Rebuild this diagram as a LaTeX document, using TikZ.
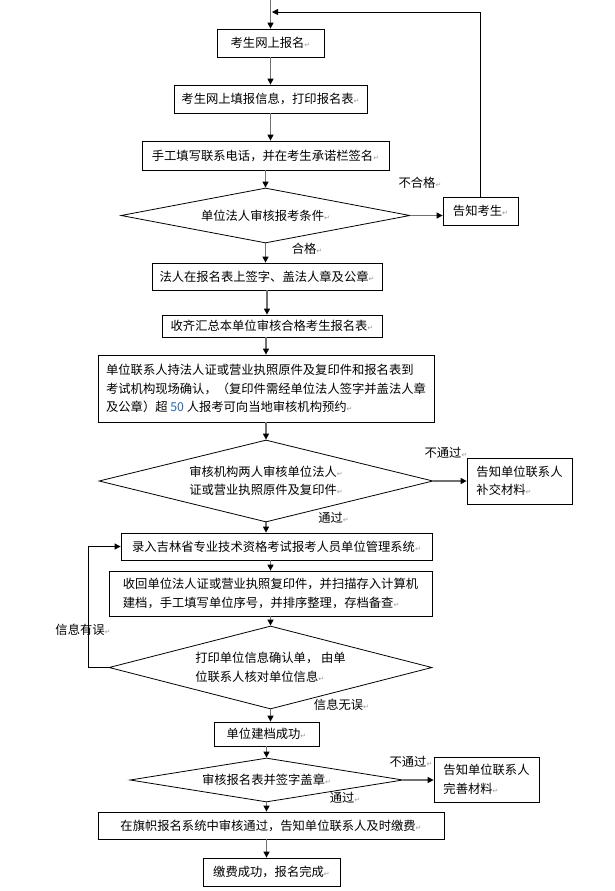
\documentclass[tikz,border=0pt]{standalone}
\usepackage{xcolor}
\usepackage{fontspec}
\usepackage{tikz}
\usetikzlibrary{shapes.geometric,arrows.meta}
\setmainfont{Noto Sans CJK SC}
\newfontfamily\symfont{DejaVu Sans}
\definecolor{linegray}{HTML}{707070}
\definecolor{markgray}{HTML}{9A9A9A}
\definecolor{numblue}{HTML}{2A64B4}
\newcommand{\parmark}{{\symfont\fontsize{7}{7}\selectfont\textcolor{markgray}{↵}}}

\begin{document}
\begin{tikzpicture}[x=1pt,y=-1pt,
    every node/.style={font=\fontsize{12.3}{18.5}\selectfont},
    stepbox/.style={draw,line width=0.8pt,inner sep=0pt,align=left},
    choice/.style={draw,diamond,line width=0.8pt,inner sep=0pt,align=left},
    flow/.style={draw=linegray,line width=1.3pt,-{Triangle[length=6pt,width=6pt,color=black]}},
    back/.style={draw=black,line width=0.8pt,-{Triangle[length=6pt,width=6pt]}},
    tag/.style={inner sep=0pt}]
  \useasboundingbox (0,0) rectangle (615,891);
  % main column
  \node[stepbox,minimum width=107pt,minimum height=28pt] (enrol) at (270.5,43) {考生网上报名\parmark};
  \node[stepbox,minimum width=193pt,minimum height=28pt] (fillin) at (270.5,99) {考生网上填报信息，打印报名表\parmark};
  \node[stepbox,minimum width=247pt,minimum height=29pt] (sign) at (265.5,155.5) {手工填写联系电话，并在考生承诺栏签名\parmark};
  \node[choice,minimum width=289pt,minimum height=55pt,aspect=5.25] (check) at (265.5,215.5) {单位法人审核报考条件\parmark};
  \node[stepbox,minimum width=230pt,minimum height=27pt] (legal) at (267,276.5) {法人在报名表上签字、盖法人章及公章\parmark};
  \node[stepbox,minimum width=220pt,minimum height=22pt] (collect) at (272,326) {收齐汇总本单位审核合格考生报名表\parmark};
  \node[stepbox,minimum width=336pt,minimum height=67pt] (visit) at (266,388.5) {单位联系人持法人证或营业执照原件及复印件和报名表到\\考试机构现场确认，（复印件需经单位法人签字并盖法人章\\及公章）超 \textcolor{numblue}{50} 人报考可向当地审核机构预约\parmark};
  \node[choice,minimum width=334pt,minimum height=82pt,aspect=4.07] (verify) at (266,481) {审核机构两人审核单位法人\parmark\\证或营业执照原件及复印件\parmark};
  \node[stepbox,minimum width=311pt,minimum height=27pt] (entry) at (276.5,546.5) {录入吉林省专业技术资格考试报考人员单位管理系统\parmark};
  \node[stepbox,minimum width=323pt,minimum height=45pt] (archive) at (270.5,593.5) {收回单位法人证或营业执照复印件，并扫描存入计算机\\建档，手工填写单位序号，并排序整理，存档备查\parmark};
  \node[choice,minimum width=323pt,minimum height=83pt,aspect=3.9] (confirm) at (270.5,667.5) {打印单位信息确认单， 由单\\位联系人核对单位信息\parmark};
  \node[stepbox,minimum width=105pt,minimum height=24pt] (built) at (266.5,734) {单位建档成功\parmark};
  \node[choice,minimum width=273pt,minimum height=44pt,aspect=6.2] (review) at (266.5,780) {审核报名表并签字盖章\parmark};
  \node[stepbox,minimum width=346pt,minimum height=27pt] (approve) at (271,825.5) {在旗帜报名系统中审核通过，告知单位联系人及时缴费\parmark};
  \node[stepbox,minimum width=137pt,minimum height=28pt] (paid) at (271.5,872) {缴费成功，报名完成\parmark};
  % side boxes
  \node[stepbox,minimum width=75pt,minimum height=28pt] (tellcand) at (480.5,211) {告知考生\parmark};
  \node[stepbox,minimum width=105pt,minimum height=46pt] (tellsupp) at (519.5,481) {告知单位联系人\\补交材料\parmark};
  \node[stepbox,minimum width=105pt,minimum height=45pt] (tellfix) at (486.5,779.5) {告知单位联系人\\完善材料\parmark};
  % labels
  \node[tag] (failA) at (420,183) {不合格\parmark};
  \node[tag] (passA) at (307,249) {合格\parmark};
  \node[tag] (failB) at (446,453) {不通过\parmark};
  \node[tag] (passB) at (333.5,518) {通过\parmark};
  \node[tag] (wrongC) at (83,630) {信息有误\parmark};
  \node[tag] (rightC) at (341.5,705) {信息无误\parmark};
  \node[tag] (failD) at (411,762) {不通过\parmark};
  \node[tag] (passD) at (345,798) {通过\parmark};
  % connectors
  \coordinate (start) at (270.5,0);
  \coordinate (rejoin) at (272,12);
  \draw[flow] (start) -- (enrol.north);
  \draw[flow] (enrol) -- (fillin);
  \draw[flow] (fillin.south) -- (fillin.south |- sign.north);
  \draw[flow] (sign) -- (check);
  \draw[flow] (check.south) -- (check.south |- legal.north);
  \draw[flow] (check.east) -- (check.east -| tellcand.west);
  \draw[back] (tellcand.north) |- (rejoin);
  \draw[flow] (legal.south) -- (legal.south |- collect.north);
  \draw[flow] (visit.north |- collect.south) -- (visit.north);
  \draw[flow] (visit) -- (verify);
  \draw[flow] (verify.east) -- (verify.east -| tellsupp.west);
  \draw[flow] (verify.south) -- (verify.south |- entry.north);
  \draw[flow] (archive.north |- entry.south) -- (archive.north);
  \draw[flow] (archive) -- (confirm);
  \draw[back] (confirm.west) -- ++(-20,0) |- (entry.west);
  \draw[flow] (confirm.south) -- (confirm.south |- built.north);
  \draw[flow] (built) -- (review);
  \draw[flow] (review.east) -- (review.east -| tellfix.west);
  \draw[flow] (review.south) -- (review.south |- approve.north);
  \draw[flow] (approve.south -| review.south) -- (paid.north -| review.south);
\end{tikzpicture}
\end{document}
